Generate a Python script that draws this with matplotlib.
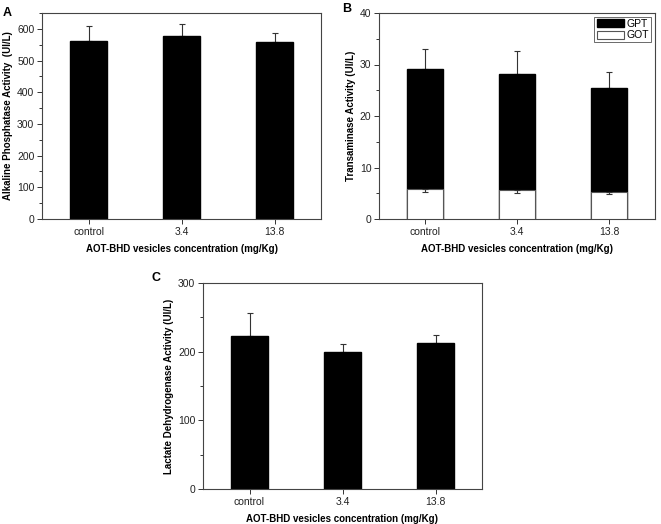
import matplotlib
matplotlib.use("Agg")
import matplotlib.pyplot as plt
from matplotlib.ticker import MultipleLocator

plt.rcParams["font.family"] = ["Liberation Sans", "DejaVu Sans"]
plt.rcParams["font.size"] = 7.5

# ---------------------------------------------------
# Data
# ---------------------------------------------------
groups = ["control", "3.4", "13.8"]
positions = [1, 2, 3]

alp_mean = [562, 578, 560]
alp_err = [46, 36, 28]

gpt_mean = [29.2, 28.2, 25.4]
gpt_err = [3.8, 4.5, 3.2]
got_mean = [5.8, 5.7, 5.3]
got_err = [0.5, 0.7, 0.5]

ldh_mean = [223, 200, 213]
ldh_err = [33, 11, 12]

XLABEL = "AOT-BHD vesicles concentration (mg/Kg)"
W = 661
H = 524


def style_axis(ax, ylim, major, minor):
    ax.set_xlim(0.5, 3.5)
    ax.set_ylim(*ylim)
    ax.set_xticks(positions)
    ax.set_xticklabels(groups)
    ax.yaxis.set_major_locator(MultipleLocator(major))
    ax.yaxis.set_minor_locator(MultipleLocator(minor))
    ax.tick_params(axis="both", which="both", direction="out", length=3.5,
                   width=0.7, colors="#333333", labelcolor="#222222",
                   labelsize=7.5)
    ax.tick_params(axis="y", which="minor", length=2)
    ax.tick_params(axis="both", pad=2)
    for sp in ax.spines.values():
        sp.set_color("#444444")
        sp.set_linewidth(0.8)
    ax.set_xlabel(XLABEL, fontweight="bold", fontsize=7, labelpad=5)


def axes_px(fig, left, top, right, bottom):
    return fig.add_axes([left / W, 1 - bottom / H, (right - left) / W, (bottom - top) / H])


fig = plt.figure(figsize=(W / 100, H / 100), dpi=100)

# ---------------------------------------------------
# A: Alkaline phosphatase
# ---------------------------------------------------
axA = axes_px(fig, 42, 13, 321, 219)
axA.bar(positions, alp_mean, width=0.4, color="black", edgecolor="black", zorder=2)
axA.errorbar(positions, alp_mean, yerr=[[0, 0, 0], alp_err], fmt="none",
             ecolor="#333333", elinewidth=0.8, capsize=2.5, capthick=0.8, zorder=1)
style_axis(axA, (0, 650), 100, 50)
axA.set_ylabel("Alkaline Phosphatase Activity  (UI/L)", fontweight="bold",
               fontsize=7, labelpad=3)
fig.text(3 / W, 1 - 7 / H, "A", fontweight="bold", fontsize=9, va="top")

# ---------------------------------------------------
# B: Transaminases (GOT drawn over GPT)
# ---------------------------------------------------
axB = axes_px(fig, 379, 13, 655, 219)
axB.bar(positions, gpt_mean, width=0.4, color="black", edgecolor="black",
        label="GPT", zorder=2)
axB.errorbar(positions, gpt_mean, yerr=[[0, 0, 0], gpt_err], fmt="none",
             ecolor="#333333", elinewidth=0.8, capsize=2.5, capthick=0.8, zorder=1)
axB.bar(positions, got_mean, width=0.4, color="white", edgecolor="#555555",
        linewidth=0.8, label="GOT", zorder=3)
axB.errorbar(positions, got_mean, yerr=[got_err, [0, 0, 0]], fmt="none",
             ecolor="#333333", elinewidth=0.8, capsize=2.5, capthick=0.8, zorder=4)
style_axis(axB, (0, 40), 10, 5)
axB.set_ylabel("Transaminase Activity (UI/L)", fontweight="bold",
               fontsize=7, labelpad=3)
leg = axB.legend(loc="upper right", frameon=True, fancybox=False, fontsize=7.5,
                 borderpad=0.2, handlelength=2.6, handleheight=0.8,
                 labelspacing=0.15, borderaxespad=0.35, handletextpad=0.3)
leg.get_frame().set_edgecolor("#444444")
leg.get_frame().set_linewidth(0.7)
fig.text(342 / W, 1 - 3 / H, "B", fontweight="bold", fontsize=9, va="top")

# ---------------------------------------------------
# C: Lactate dehydrogenase
# ---------------------------------------------------
axC = axes_px(fig, 203, 283, 482, 489)
axC.bar(positions, ldh_mean, width=0.4, color="black", edgecolor="black", zorder=2)
axC.errorbar(positions, ldh_mean, yerr=[[0, 0, 0], ldh_err], fmt="none",
             ecolor="#333333", elinewidth=0.8, capsize=2.5, capthick=0.8, zorder=1)
style_axis(axC, (0, 300), 100, 50)
axC.set_ylabel("Lactate Dehydrogenase Activity (UI/L)", fontweight="bold",
               fontsize=7, labelpad=3)
fig.text(152 / W, 1 - 272 / H, "C", fontweight="bold", fontsize=9, va="top")

fig.savefig("out.png", dpi=100)
